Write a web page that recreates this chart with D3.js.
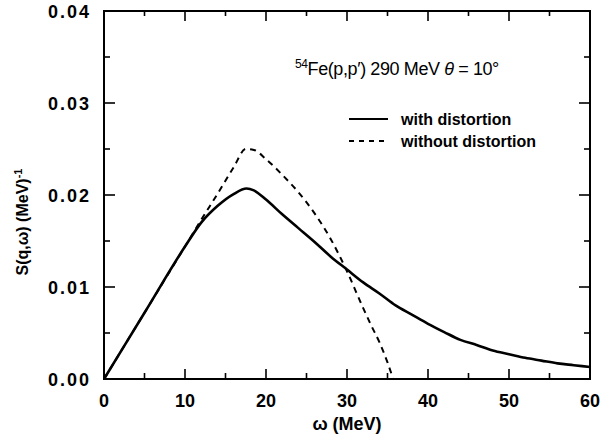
<!DOCTYPE html>
<html><head><meta charset="utf-8">
<script src="https://cdn.jsdelivr.net/npm/d3@7"></script>
<style>body{margin:0;background:#fff}svg{display:block}</style>
</head><body>
<script>
const omegaWith = [0,5,10,12,14,16,17.6,18.5,20,22,24,26,28,30,32,34,36,38,40,42,44,46,48,50,52,54,56,58,60];
const sWith = [0,0.0072,0.0144,0.0170,0.0188,0.0201,0.0207,0.0205,0.0195,0.0179,0.0164,0.0149,0.0133,0.0119,0.0105,0.0093,0.0080,0.0070,0.0060,0.0051,0.00425,0.0037,0.0031,0.0027,0.0023,0.0020,0.0017,0.0015,0.0013];
const omegaWithout = [0,5,10,12,14,16,17.5,18.5,20,22,24,26,28,30,32,33,34,35,35.7];
const sWithout = [0,0.0072,0.0144,0.0173,0.0201,0.0230,0.0250,0.0249,0.0239,0.0222,0.0203,0.0180,0.0152,0.0117,0.0077,0.0058,0.0040,0.0018,0];
const xMajor = [0,10,20,30,40,50,60];
const xMinor = [5,15,25,35,45,55];
const yMajor = [0,0.01,0.02,0.03,0.04];
const yMinor = [0.005,0.015,0.025,0.035];
const yTickLabels = ["0.00","0.01","0.02","0.03","0.04"];

const W=602,H=444;
const m={l:104,r:590,t:11,b:379};
const svg=d3.select("body").append("svg").attr("width",W).attr("height",H);
const x=d3.scaleLinear().domain([0,60]).range([m.l,m.r]);
const y=d3.scaleLinear().domain([0,0.04]).range([m.b,m.t]);
const font="'Liberation Sans', Arial, sans-serif";

svg.append("rect").attr("x",m.l).attr("y",m.t).attr("width",m.r-m.l).attr("height",m.b-m.t)
  .attr("fill","none").attr("stroke","#000").attr("stroke-width",2);

const tk=svg.append("g").attr("stroke","#000").attr("stroke-width",1.6);
xMajor.forEach(v=>{
  tk.append("line").attr("x1",x(v)).attr("x2",x(v)).attr("y1",m.b).attr("y2",m.b-10);
  tk.append("line").attr("x1",x(v)).attr("x2",x(v)).attr("y1",m.t).attr("y2",m.t+10);
});
xMinor.forEach(v=>{
  tk.append("line").attr("x1",x(v)).attr("x2",x(v)).attr("y1",m.b).attr("y2",m.b-6);
  tk.append("line").attr("x1",x(v)).attr("x2",x(v)).attr("y1",m.t).attr("y2",m.t+5);
});
yMajor.forEach(v=>{
  tk.append("line").attr("x1",m.l).attr("x2",m.l+11).attr("y1",y(v)).attr("y2",y(v));
  tk.append("line").attr("x1",m.r).attr("x2",m.r-11).attr("y1",y(v)).attr("y2",y(v));
});
yMinor.forEach(v=>{
  tk.append("line").attr("x1",m.l).attr("x2",m.l+6).attr("y1",y(v)).attr("y2",y(v));
  tk.append("line").attr("x1",m.r).attr("x2",m.r-6).attr("y1",y(v)).attr("y2",y(v));
});

xMajor.forEach(v=>{
  svg.append("text").attr("x",x(v)).attr("y",407).attr("text-anchor","middle")
    .attr("font-family",font).attr("font-weight","bold").attr("font-size",18).text(v);
});
yMajor.forEach((v,i)=>{
  svg.append("text").attr("x",91).attr("y",y(v)+7).attr("text-anchor","end")
    .attr("font-family",font).attr("font-size",18).attr("letter-spacing",2).attr("font-weight","bold")
    .text(yTickLabels[i]);
});

svg.append("text").attr("x",347).attr("y",430).attr("text-anchor","middle")
  .attr("font-family",font).attr("font-weight","bold").attr("font-size",18).text("ω (MeV)");
svg.append("text").attr("transform","translate(28,"+222+") rotate(-90)").attr("text-anchor","middle")
  .attr("font-family",font).attr("font-size",16).attr("font-weight","bold")
  .html("S(q,ω) (MeV)<tspan dy='-6' font-size='11'>-1</tspan>");

const line=d3.line().x(d=>x(d[0])).y(d=>y(d[1])).curve(d3.curveMonotoneX);
const dWith=omegaWith.map((o,i)=>[o,sWith[i]]);
const dWithout=omegaWithout.map((o,i)=>[o,sWithout[i]]);
svg.append("path").attr("d",line(dWithout)).attr("fill","none").attr("stroke","#000")
  .attr("stroke-width",2).attr("stroke-dasharray","6,5");
svg.append("path").attr("d",line(dWith)).attr("fill","none").attr("stroke","#000").attr("stroke-width",2.6);

const t=svg.append("text").attr("x",295).attr("y",75).attr("font-family",font).attr("font-size",18).attr("letter-spacing",-0.4);
t.append("tspan").attr("font-size",12).attr("dy",-7).text("54");
t.append("tspan").attr("dy",7).text("Fe(p,p′) 290 MeV  ");
t.append("tspan").attr("font-style","italic").text("θ");
t.append("tspan").text(" = 10°");

svg.append("line").attr("x1",349).attr("x2",388).attr("y1",119).attr("y2",119).attr("stroke","#000").attr("stroke-width",2.2);
svg.append("line").attr("x1",349).attr("x2",388).attr("y1",141).attr("y2",141).attr("stroke","#000").attr("stroke-width",2).attr("stroke-dasharray","5,5");
svg.append("text").attr("x",401).attr("y",125).attr("font-family",font).attr("font-weight","bold").attr("font-size",16).text("with distortion");
svg.append("text").attr("x",401).attr("y",147).attr("font-family",font).attr("font-weight","bold").attr("font-size",16).text("without distortion");
</script>
</body></html>
